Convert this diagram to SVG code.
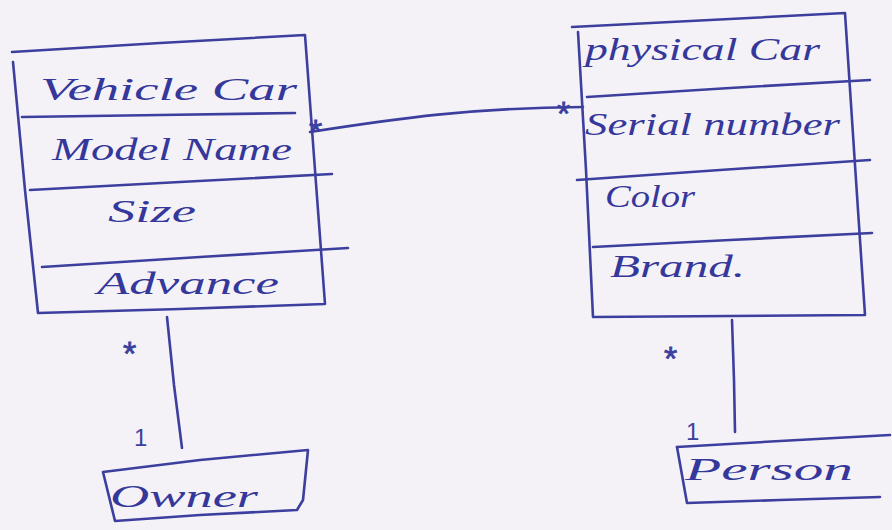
<svg xmlns="http://www.w3.org/2000/svg" width="892" height="530" viewBox="0 0 892 530">
  <style>
    .ink { fill: none; stroke: #3c3f9e; stroke-width: 2.6; stroke-linecap: round; stroke-linejoin: round; }
    .lbl { font-family: "Liberation Serif", "DejaVu Serif", serif; font-style: italic; fill: #35389a; font-size: 31px; }
    .mult { font-family: "Liberation Sans", "DejaVu Sans", sans-serif; fill: #3c3f9e; font-size: 24px; }
    .star { font-family: "Liberation Sans", "DejaVu Sans", sans-serif; fill: #3c3f9e; stroke: #3c3f9e; stroke-width: 0.8; font-size: 34px; }
  </style>
  <rect width="892" height="530" fill="#f4f2f7"/>

  <!-- Vehicle Car class -->
  <g id="vehicle-car">
    <path class="ink" d="M12 52 L160 43 L305 35 L315 170 L325 304 L180 309 L38 313 L25 190 L13 62"/>
    <path class="ink" d="M22 117 L160 115 L295 113"/>
    <path class="ink" d="M30 190 L180 182 L332 174"/>
    <path class="ink" d="M42 267 L200 257 L348 248"/>
    <text class="lbl" x="40" y="100" textLength="257" lengthAdjust="spacingAndGlyphs">Vehicle Car</text>
    <text class="lbl" x="52" y="160" textLength="240" lengthAdjust="spacingAndGlyphs">Model Name</text>
    <text class="lbl" x="108" y="222" textLength="88" lengthAdjust="spacingAndGlyphs">Size</text>
    <text class="lbl" x="97" y="294" textLength="182" lengthAdjust="spacingAndGlyphs">Advance</text>
  </g>

  <!-- Physical Car class -->
  <g id="physical-car">
    <path class="ink" d="M572 27 L710 20 L845 13 L855 165 L865 315 L730 316 L593 317 L586 170 L578 32"/>
    <path class="ink" d="M587 97 L730 88 L870 80"/>
    <path class="ink" d="M577 180 L720 170 L870 160"/>
    <path class="ink" d="M593 247 L730 240 L872 233"/>
    <text class="lbl" x="585" y="60" textLength="235" lengthAdjust="spacingAndGlyphs">physical Car</text>
    <text class="lbl" x="585" y="135" textLength="255" lengthAdjust="spacingAndGlyphs">Serial number</text>
    <text class="lbl" x="605" y="207" textLength="90" lengthAdjust="spacingAndGlyphs">Color</text>
    <text class="lbl" x="610" y="277" textLength="135" lengthAdjust="spacingAndGlyphs">Brand.</text>
  </g>

  <!-- Owner class -->
  <g id="owner">
    <path class="ink" d="M103 472 L200 460 L308 450 L305 480 L303 500 L297 510 L200 515 L115 521 L103 472"/>
    <text class="lbl" x="110" y="507" textLength="148" lengthAdjust="spacingAndGlyphs">Owner</text>
  </g>

  <!-- Person class -->
  <g id="person">
    <path class="ink" d="M677 447 L780 441 L890 435"/>
    <path class="ink" d="M677 447 L682 475 L687 503 L780 500 L880 497"/>
    <text class="lbl" x="685" y="480" textLength="168" lengthAdjust="spacingAndGlyphs">Person</text>
  </g>

  <!-- Associations -->
  <g id="connectors">
    <path class="ink" d="M310 132 C 400 118, 470 108, 583 107"/>
    <path class="ink" d="M167 317 L174 385 L182 448"/>
    <path class="ink" d="M732 320 L734 380 L735 432"/>
    <text class="star" x="309" y="143">*</text>
    <text class="star" x="557" y="125">*</text>
    <text class="star" x="123" y="365">*</text>
    <text class="mult" x="134" y="446">1</text>
    <text class="star" x="664" y="370">*</text>
    <text class="mult" x="686" y="440">1</text>
  </g>
</svg>
